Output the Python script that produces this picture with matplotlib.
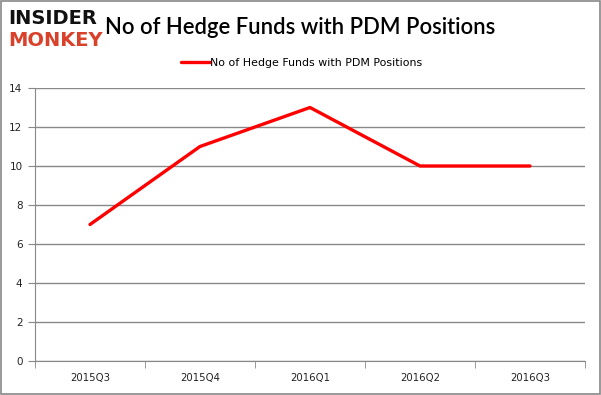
import numpy as np
import matplotlib.pyplot as plt
from matplotlib.ticker import FixedLocator

quarters = ['2015Q3', '2015Q4', '2016Q1', '2016Q2', '2016Q3']
funds = [7, 11, 13, 10, 10]
yticks = [0, 2, 4, 6, 8, 10, 12, 14]

fig = plt.figure(figsize=(6.01, 3.95), dpi=100)
ax = fig.add_axes([35/601, 1-361/395, 550/601, 273/395])

x = np.arange(len(quarters))
ax.plot(x, funds, color='#ff0000', lw=2.4, label='No of Hedge Funds with PDM Positions',
        solid_capstyle='round')

ax.set_xlim(-0.5, len(quarters)-0.5)
ax.set_ylim(0, 14)
ax.set_yticks(yticks)
ax.set_xticks(x)
ax.set_xticklabels(quarters)
ax.xaxis.set_minor_locator(FixedLocator(np.arange(-0.5, len(quarters), 1)))
ax.tick_params(axis='x', which='major', length=0, pad=9, labelsize=7.3, colors='#222222')
ax.tick_params(axis='x', which='minor', length=5, color='#888888', direction='out')
ax.tick_params(axis='y', length=5, color='#888888', labelsize=7.5, pad=4, labelcolor='#222222')
ax.grid(axis='y', color='#888888', lw=1)
ax.set_axisbelow(True)
for s in ['top', 'right']:
    ax.spines[s].set_visible(False)
for s in ['left', 'bottom']:
    ax.spines[s].set_color('#888888')

ax.legend(loc='upper center', bbox_to_anchor=(0.485, 1.145), frameon=False,
          fontsize=7.9, handlelength=2.6, handletextpad=0.05)

fig.text(0.5, 1-28/395, 'No of Hedge Funds with PDM Positions', ha='center', va='center',
         fontsize=15.8, family='Lato', weight='semibold')
fig.text(8/601, 1-19/395, 'INSIDER', fontsize=14, weight='heavy', color='#111111', va='center')
fig.text(8/601, 1-40/395, 'MONKEY', fontsize=14, weight='heavy', color='#d9412b', va='center')

fig.patches.append(plt.Rectangle((0.001, 0.002), 0.997, 0.996, transform=fig.transFigure,
                                 fill=False, edgecolor='#888888', lw=1.2))

fig.savefig('out.png', dpi=100)
